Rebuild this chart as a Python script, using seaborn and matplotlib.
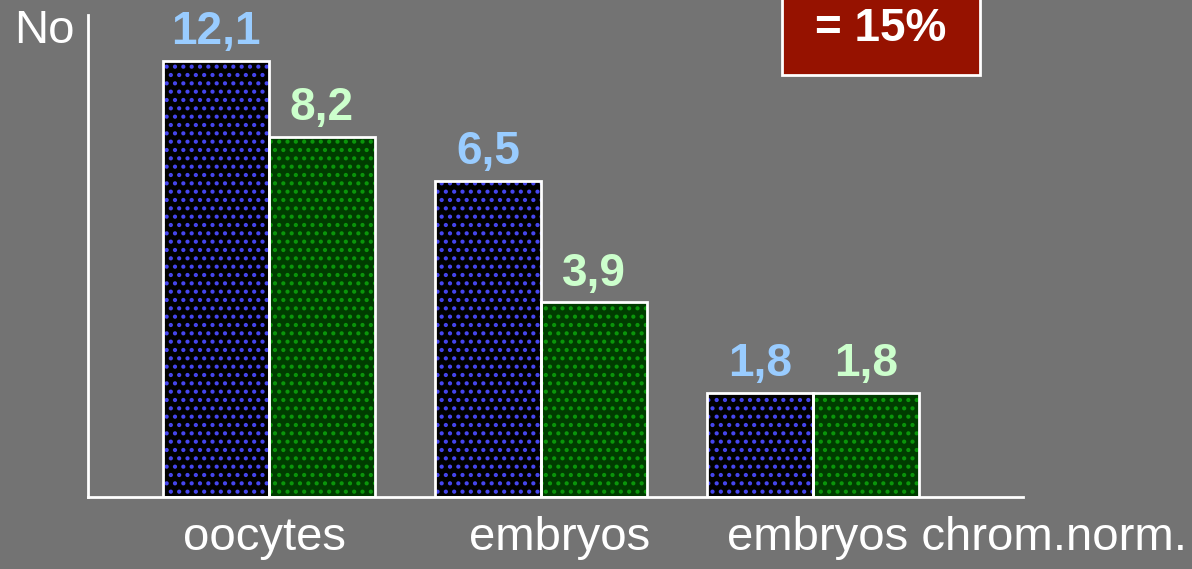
import pandas as pd
import matplotlib.pyplot as plt
import seaborn as sns
from matplotlib.patches import Rectangle

# Data
categories = ["oocytes", "embryos", "embryos chrom.norm."]
series = ["left", "right"]
# heights as drawn in the slide (the slide does not draw them to scale)
left_heights = [12.1, 8.77, 2.9]
right_heights = [10.0, 5.4, 2.9]
left_labels = ["12,1", "6,5", "1,8"]
right_labels = ["8,2", "3,9", "1,8"]

df = pd.DataFrame({
    "category": categories * 2,
    "series": [series[0]] * 3 + [series[1]] * 3,
    "height": left_heights + right_heights,
})

bg = "#737373"
sns.set_theme(style="white")
plt.rcParams["font.family"] = ["Liberation Sans", "DejaVu Sans"]
plt.rcParams["hatch.linewidth"] = 1.8

fig = plt.figure(figsize=(11.92, 5.69), dpi=100, facecolor=bg)
ax = fig.add_axes([88 / 1192, 1 - 497 / 569, (1023 - 88) / 1192, (497 - 15) / 569])
ax.set_facecolor(bg)

sns.barplot(
    data=df,
    x="category",
    y="height",
    hue="series",
    palette=["black", "#003c00"],
    saturation=1,
    width=0.78,
    legend=False,
    ax=ax,
)

dot_colors = ["#4646f0", "#0a960a"]
label_colors = ["#99ccff", "#ccffcc"]
label_sets = [left_labels, right_labels]

for i, cont in enumerate(ax.containers):
    for bar, txt in zip(cont, label_sets[i]):
        bar.set_hatch("..")
        bar.set_edgecolor(dot_colors[i])
        bar.set_linewidth(0)
        # white outline on top of the dotted fill
        ax.add_patch(Rectangle((bar.get_x(), bar.get_y()), bar.get_width(), bar.get_height(),
                               fill=False, edgecolor="white", linewidth=2, zorder=3))
        ax.annotate(txt, (bar.get_x() + bar.get_width() / 2, bar.get_height()),
                    xytext=(0, 12), textcoords="offset points",
                    ha="center", va="baseline", fontsize=33, fontweight="bold",
                    color=label_colors[i])

ax.set_xlim(-0.665, 2.772)
ax.set_ylim(0, 13.38)
ax.set_yticks([])
ax.set_xticks([-0.015, 1.07, 2.53])
ax.set_xticklabels(categories)
ax.tick_params(axis="x", length=0, pad=14, labelsize=34, labelcolor="white")
ax.set_xlabel("")
ax.set_ylabel("")

for side in ["top", "right"]:
    ax.spines[side].set_visible(False)
for side in ["left", "bottom"]:
    ax.spines[side].set_color("white")
    ax.spines[side].set_linewidth(2)

fig.text(14 / 1192, 1 - 43 / 569, "No", fontsize=34, color="white", va="baseline", ha="left")

# red box in the upper right
fig.patches.append(Rectangle((782 / 1192, 1 - 75 / 569), (980 - 782) / 1192, 0.3,
                             transform=fig.transFigure, facecolor="#961200",
                             edgecolor="white", linewidth=2))
fig.text(881 / 1192, 1 - 29 / 569, "= 15%", fontsize=33, fontweight="bold",
         color="white", ha="center", va="center")

fig.savefig("out.png", dpi=100, facecolor=bg)
